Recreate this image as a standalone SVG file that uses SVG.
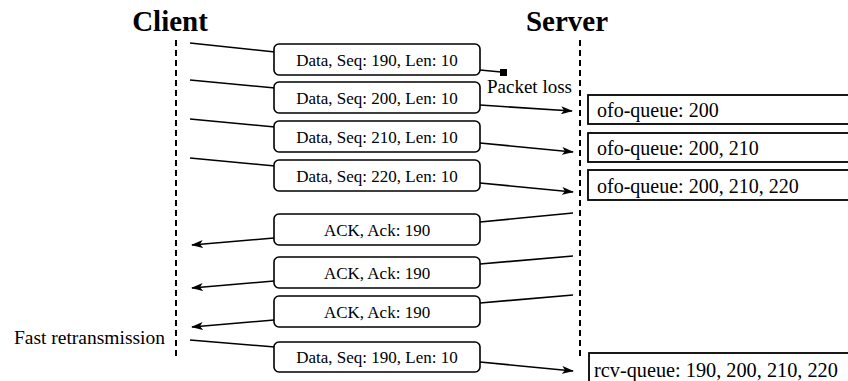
<svg xmlns="http://www.w3.org/2000/svg" width="848" height="381" viewBox="0 0 848 381">
  <style>
    .title { font-family: "Liberation Serif", "Times New Roman", serif; font-weight: bold; font-size: 29px; fill: #000; text-anchor: middle; }
    .label { font-family: "Liberation Serif", "Times New Roman", serif; font-size: 17px; fill: #000; text-anchor: middle; }
    .note { font-family: "Liberation Serif", "Times New Roman", serif; font-size: 19.5px; fill: #000; }
    .queue { font-family: "Liberation Serif", "Times New Roman", serif; font-size: 20px; fill: #000; }
    .msg { fill: #fff; stroke: #000; stroke-width: 1.6; }
    .qbox { fill: #fff; stroke: #000; stroke-width: 1.8; }
    .life { stroke: #000; stroke-width: 2; stroke-dasharray: 6 4; fill: none; }
    .wire { stroke: #000; stroke-width: 1.6; fill: none; }
    .arrow { stroke: #000; stroke-width: 1.6; fill: none; marker-end: url(#head); }
  </style>
  <defs>
    <marker id="head" viewBox="0 0 12 8" refX="11" refY="4" markerWidth="12" markerHeight="8" markerUnits="userSpaceOnUse" orient="auto">
      <path d="M0,0 L12,4 L0,8 L3,4 z" fill="#000"/>
    </marker>
  </defs>
  <rect width="848" height="381" fill="#fff"/>

  <!-- lifelines -->
  <g id="client">
    <text class="title" x="170" y="31">Client</text>
    <line class="life" x1="176" y1="40" x2="176" y2="356"/>
  </g>
  <g id="server">
    <text class="title" x="567" y="31">Server</text>
    <line class="life" x1="580" y1="40" x2="580" y2="356"/>
  </g>

  <!-- connectors -->
  <g id="connectors">
    <line class="wire" x1="190" y1="43" x2="275" y2="52"/>
    <line class="wire" x1="480" y1="70" x2="501" y2="72"/>
    <rect x="500" y="69" width="7" height="7" fill="#000"/>

    <line class="wire" x1="190" y1="80" x2="275" y2="88"/>
    <line class="arrow" x1="480" y1="105" x2="572" y2="111"/>

    <line class="wire" x1="190" y1="119" x2="275" y2="127"/>
    <line class="arrow" x1="480" y1="143" x2="573" y2="152"/>

    <line class="wire" x1="190" y1="158" x2="275" y2="166"/>
    <line class="arrow" x1="480" y1="183" x2="573" y2="192"/>

    <line class="wire" x1="573" y1="213" x2="480" y2="222"/>
    <line class="arrow" x1="274" y1="238" x2="192" y2="245"/>

    <line class="wire" x1="573" y1="256" x2="480" y2="264"/>
    <line class="arrow" x1="274" y1="281" x2="192" y2="288"/>

    <line class="wire" x1="573" y1="295" x2="480" y2="303"/>
    <line class="arrow" x1="274" y1="320" x2="192" y2="327"/>

    <line class="wire" x1="190" y1="340" x2="275" y2="347"/>
    <line class="arrow" x1="480" y1="362" x2="573" y2="371"/>
  </g>

  <!-- segments and acknowledgements -->
  <g id="data190">
    <rect class="msg" x="274" y="44" width="206" height="31" rx="5"/>
    <text class="label" x="377" y="66">Data, Seq: 190, Len: 10</text>
  </g>
  <g id="data200">
    <rect class="msg" x="274" y="82" width="206" height="31" rx="5"/>
    <text class="label" x="377" y="104">Data, Seq: 200, Len: 10</text>
  </g>
  <g id="data210">
    <rect class="msg" x="274" y="121" width="206" height="31" rx="5"/>
    <text class="label" x="377" y="143">Data, Seq: 210, Len: 10</text>
  </g>
  <g id="data220">
    <rect class="msg" x="274" y="160" width="206" height="31" rx="5"/>
    <text class="label" x="377" y="182">Data, Seq: 220, Len: 10</text>
  </g>
  <g id="ack1">
    <rect class="msg" x="274" y="214" width="206" height="31" rx="5"/>
    <text class="label" x="377" y="236">ACK, Ack: 190</text>
  </g>
  <g id="ack2">
    <rect class="msg" x="274" y="257" width="206" height="31" rx="5"/>
    <text class="label" x="377" y="279">ACK, Ack: 190</text>
  </g>
  <g id="ack3">
    <rect class="msg" x="274" y="296" width="206" height="31" rx="5"/>
    <text class="label" x="377" y="318">ACK, Ack: 190</text>
  </g>
  <g id="data190-retx">
    <rect class="msg" x="274" y="342" width="206" height="30" rx="5"/>
    <text class="label" x="377" y="363">Data, Seq: 190, Len: 10</text>
  </g>

  <!-- annotations -->
  <g id="packet-loss">
    <text class="note" x="487" y="93" style="font-size:19px">Packet loss</text>
  </g>
  <g id="fast-retransmission">
    <text class="note" x="165" y="344" text-anchor="end">Fast retransmission</text>
  </g>

  <!-- receiver queues -->
  <g id="ofo1">
    <rect class="qbox" x="588" y="95" width="270" height="29"/>
    <text class="queue" x="597" y="117">ofo-queue: 200</text>
  </g>
  <g id="ofo2">
    <rect class="qbox" x="588" y="133" width="270" height="29"/>
    <text class="queue" x="597" y="155">ofo-queue: 200, 210</text>
  </g>
  <g id="ofo3">
    <rect class="qbox" x="588" y="170" width="270" height="30"/>
    <text class="queue" x="597" y="193">ofo-queue: 200, 210, 220</text>
  </g>
  <g id="rcv">
    <rect class="qbox" x="589" y="353" width="270" height="40"/>
    <text class="queue" x="594" y="377" style="font-size:20.3px">rcv-queue: 190, 200, 210, 220</text>
  </g>
</svg>
